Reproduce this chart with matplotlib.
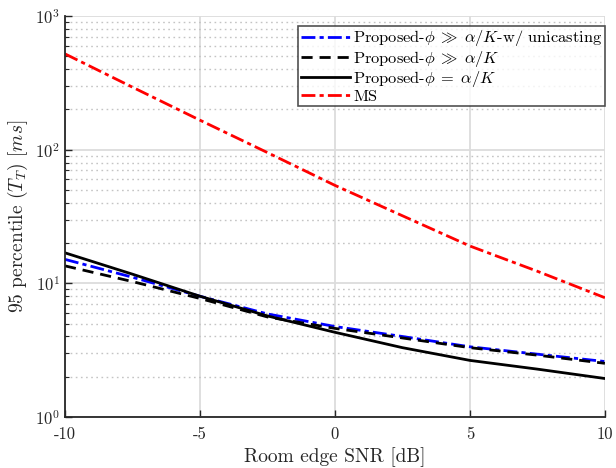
import numpy as np
import matplotlib
matplotlib.use("Agg")
import matplotlib.pyplot as plt
from matplotlib.ticker import LogLocator, NullFormatter, FixedLocator

plt.rcParams['font.family'] = 'serif'
plt.rcParams['font.serif'] = ['cmr10', 'DejaVu Serif']
plt.rcParams['mathtext.fontset'] = 'cm'
plt.rcParams['axes.unicode_minus'] = False
plt.rcParams['axes.formatter.use_mathtext'] = True

snr = [-10, -7.5, -5, -2.5, 0, 2.5, 5, 7.5, 10]
uni = [15.1, 11.1, 8.0, 5.9, 4.75, 4.0, 3.35, 2.95, 2.6]
gg = [13.5, 10.3, 7.7, 5.6, 4.6, 3.9, 3.3, 2.9, 2.52]
eq = [16.9, 11.7, 8.0, 5.7, 4.3, 3.3, 2.65, 2.28, 1.94]
ms = [520, 293, 166, 95, 54, 32, 19, 12.3, 7.8]

xticks = [-10, -5, 0, 5, 10]
xticklabels = ['-10', '-5', '0', '5', '10']

fig = plt.figure(figsize=(6.16, 4.68), dpi=100)
ax = fig.add_axes([0.1055, 0.109, 0.8765, 0.857])

lw = 2.0
ax.plot(snr, uni, color='#0000ff', ls=(0, (5, 1.5, 1.5, 1.5)), lw=lw,
        label=r'Proposed-$\phi\;\gg\;\alpha/K$-w/ unicasting')
ax.plot(snr, gg, color='black', ls=(0, (4, 2.5)), lw=lw,
        label=r'Proposed-$\phi\;\gg\;\alpha/K$')
ax.plot(snr, eq, color='black', ls='-', lw=lw,
        label=r'Proposed-$\phi\;=\;\alpha/K$')
ax.plot(snr, ms, color='#ff0000', ls=(0, (5, 1.5, 1.5, 1.5)), lw=lw,
        label='MS')

ax.set_yscale('log')
ax.set_ylim(1, 1000)
ax.set_xlim(-10, 10)
ax.xaxis.set_major_locator(FixedLocator(xticks))
ax.set_xticklabels(xticklabels)
ax.yaxis.set_major_locator(LogLocator(base=10, numticks=10))
ax.yaxis.set_minor_locator(LogLocator(base=10, subs=np.arange(2, 10), numticks=20))
ax.yaxis.set_minor_formatter(NullFormatter())

ax.grid(True, which='major', axis='both', color='#dcdcdc', lw=1.3, ls='-')
ax.grid(True, which='minor', axis='y', color='#c4c4c4', lw=1.0, ls=(0, (1.2, 2.5)))
ax.set_axisbelow(True)

for s in ['top', 'right']:
    ax.spines[s].set_visible(False)
for s in ['left', 'bottom']:
    ax.spines[s].set_color('#262626')
    ax.spines[s].set_linewidth(1.3)

ax.tick_params(axis='both', which='major', direction='in', length=5, width=1.0,
               labelsize=12, colors='#262626')
ax.tick_params(axis='y', which='minor', direction='in', length=3, width=0.8, colors='#262626')
ax.tick_params(axis='x', pad=7)

ax.set_xlabel('Room edge SNR [dB]', fontsize=14, color='#262626')
ax.set_ylabel(r'95 percentile $(T_T)$ $[ms]$', fontsize=14, color='#262626')

leg = ax.legend(loc='upper right', bbox_to_anchor=(1.0, 0.975), fontsize=11.8,
                frameon=True, fancybox=False, edgecolor='#262626',
                borderpad=0.15, labelspacing=0.02, handlelength=3.0,
                handletextpad=0.2, borderaxespad=0.0)
leg.get_frame().set_linewidth(1.2)

fig.savefig('out.png', dpi=100)
